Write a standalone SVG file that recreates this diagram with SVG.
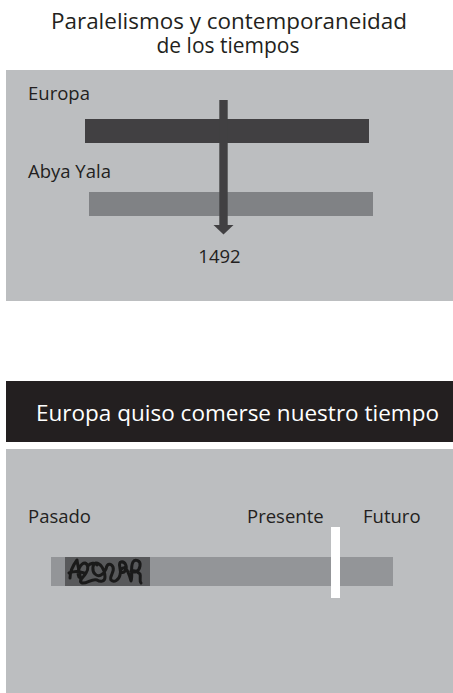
<svg xmlns="http://www.w3.org/2000/svg" width="453" height="693" viewBox="0 0 453 693">
<style>
text{font-family:"Open Sans","Noto Sans","DejaVu Sans",sans-serif;fill:#231f20}
.lbl{font-size:18.5px}
.title{font-size:21px;text-anchor:middle}
.head{font-size:22px;fill:#ffffff}
.panel{fill:#bcbec0}
</style>
<rect width="453" height="693" fill="#ffffff"/>
<g id="title">
<text class="title" x="229" y="29" textLength="356" lengthAdjust="spacingAndGlyphs">Paralelismos y contemporaneidad</text>
<text class="title" x="228" y="53">de los tiempos</text>
</g>
<g id="panel-top">
<rect class="panel" x="6" y="70" width="447" height="231"/>
</g>
<g id="europa">
<text class="lbl" x="28" y="100">Europa</text>
<rect x="85" y="119" width="284" height="24" fill="#414042"/>
</g>
<g id="abya-yala">
<text class="lbl" x="28" y="178">Abya Yala</text>
<rect x="89" y="192" width="284" height="24" fill="#808285"/>
</g>
<g id="connectors">
<rect x="219.3" y="100" width="8.4" height="126" fill="#414042"/>
<polygon points="213.5,225 233.5,225 223.5,234.5" fill="#414042"/>
</g>
<g id="year">
<text class="lbl" x="219.5" y="263" text-anchor="middle">1492</text>
</g>
<g id="header-bottom">
<rect x="6" y="381" width="447" height="61" fill="#231f20"/>
<text class="head" x="36" y="421" textLength="403" lengthAdjust="spacingAndGlyphs">Europa quiso comerse nuestro tiempo</text>
</g>
<g id="panel-bottom">
<rect class="panel" x="6" y="449" width="447" height="244"/>
</g>
<g id="labels-time">
<text class="lbl" x="28" y="523">Pasado</text>
<text class="lbl" x="247" y="523">Presente</text>
<text class="lbl" x="363" y="523">Futuro</text>
</g>
<g id="timeline">
<rect x="51" y="557" width="342" height="29" fill="#939598"/>
<rect x="65" y="557" width="85" height="29" fill="#58595b"/>
<path d="M70,578 C70,571 74,564 77,560 C78,567 80,574 81,581 M69,573 C74,571 79,571 84,573 M79,577 C76,571 81,563 85,563 C88,564 89,569 86,573 C83,578 78,581 82,583 C87,584 92,578 97,580 C100,582 105,582 105,577 C105,569 100,563 96,563 C92,564 92,571 95,574 C99,578 104,574 106,569 C107,563 111,563 113,567 C115,572 109,576 111,580 C114,583 119,580 120,575 C122,569 117,563 121,562 C125,561 128,567 125,571 C122,575 118,570 123,568 C127,566 130,577 131,581 C133,576 130,567 133,562 C135,559 141,560 140,566 C139,572 134,573 131,571 C135,570 138,572 140,574 C141,577 139,581 141,583 M88,566 C90,563 95,562 97,565" fill="none" stroke="#1a1a1a" stroke-width="3" stroke-linecap="round" stroke-linejoin="round"/>
<rect x="331" y="527" width="9" height="71" fill="#ffffff"/>
</g>
</svg>
